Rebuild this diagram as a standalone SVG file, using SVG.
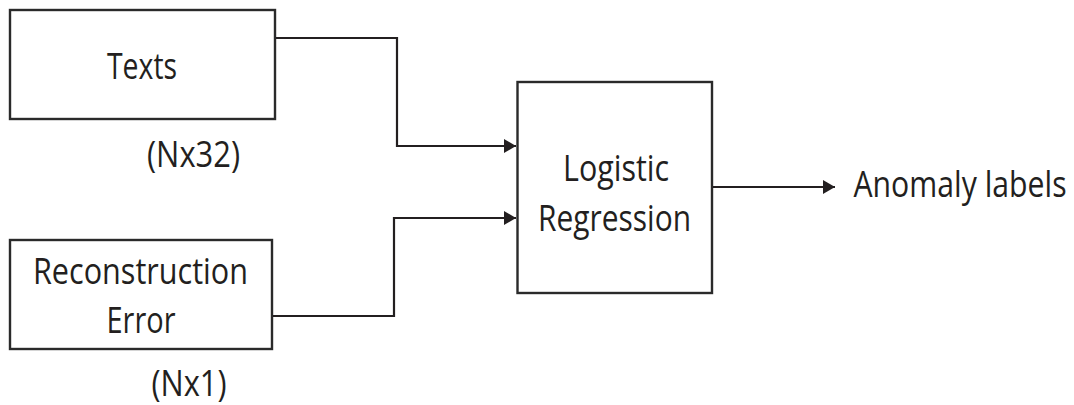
<svg xmlns="http://www.w3.org/2000/svg" width="1074" height="405" viewBox="0 0 1074 405">
<style>
.box{fill:#fff;stroke:#2a2a2a;stroke-width:2.4}
.t{font-family:"Open Sans","Noto Sans",sans-serif;font-size:36px;fill:#231f20;text-anchor:middle}
.c{fill:none;stroke:#231f20;stroke-width:2.2}
</style>
<defs>
<marker id="ah" markerUnits="userSpaceOnUse" markerWidth="13" markerHeight="14" refX="12" refY="7" orient="auto">
<path d="M0,0 L12,7 L0,14 z" fill="#231f20"/>
</marker>
</defs>
<rect width="1074" height="405" fill="#fff"/>
<g id="connectors">
<path class="c" d="M275,38 H397 V146 H516" marker-end="url(#ah)"/>
<path class="c" d="M272,316 H394 V218 H516" marker-end="url(#ah)"/>
<path class="c" d="M712,187 H835" marker-end="url(#ah)"/>
</g>
<g id="texts">
<rect class="box" x="10" y="10" width="265" height="109"/>
<text class="t" x="142" y="79" textLength="70" lengthAdjust="spacingAndGlyphs">Texts</text>
</g>
<text id="dim32" class="t" x="193.5" y="166.5" textLength="93" lengthAdjust="spacingAndGlyphs">(Nx32)</text>
<g id="recon">
<rect class="box" x="10" y="240" width="262" height="109"/>
<text class="t" x="140.5" y="284" textLength="215" lengthAdjust="spacingAndGlyphs">Reconstruction</text>
<text class="t" x="141" y="333" textLength="69" lengthAdjust="spacingAndGlyphs">Error</text>
</g>
<text id="dim1" class="t" x="189" y="396" textLength="75" lengthAdjust="spacingAndGlyphs">(Nx1)</text>
<g id="lr">
<rect class="box" x="517.5" y="82" width="194.5" height="211"/>
<text class="t" x="616" y="181" textLength="106" lengthAdjust="spacingAndGlyphs">Logistic</text>
<text class="t" x="614.5" y="231" textLength="153" lengthAdjust="spacingAndGlyphs">Regression</text>
</g>
<g id="anomaly" transform="translate(960,197) scale(0.84,1)">
<text class="t" x="0" y="0">Anomaly labels</text>
</g>
</svg>
